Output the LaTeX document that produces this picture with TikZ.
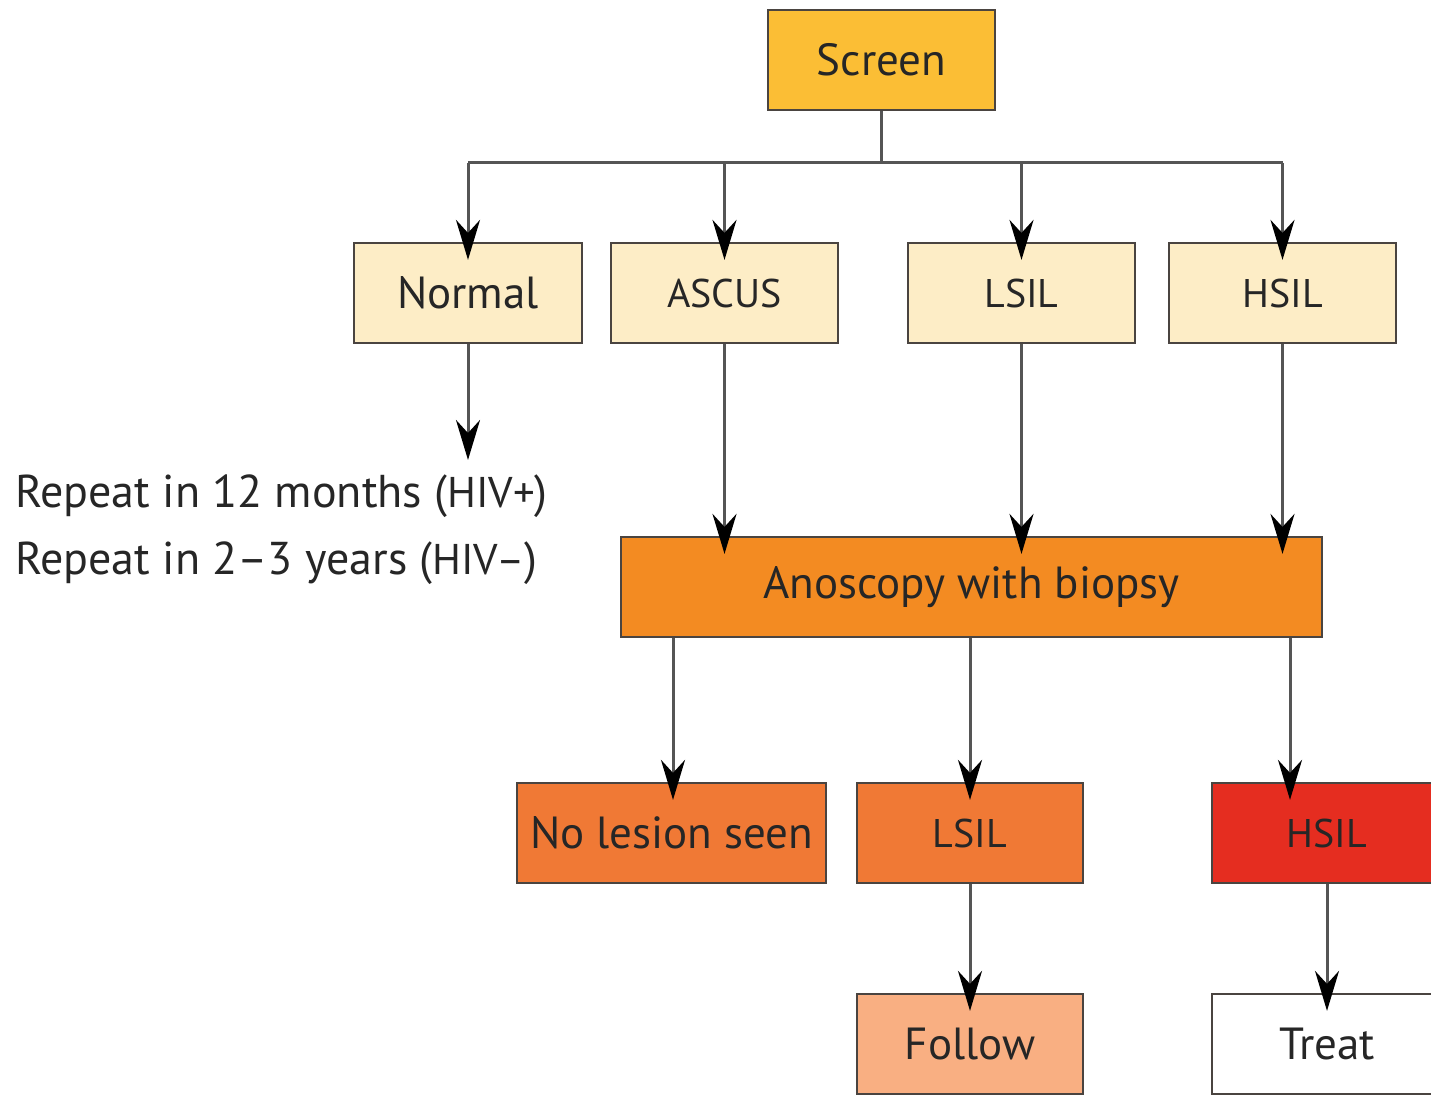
\documentclass[tikz,border=0pt]{standalone}
\usepackage{fontspec}
\setmainfont{PT Sans}
\usetikzlibrary{arrows.meta}
\definecolor{boxline}{HTML}{4A4440}
\definecolor{lineg}{HTML}{555555}
\definecolor{cScreen}{HTML}{FBBE35}
\definecolor{cCream}{HTML}{FDEDC6}
\definecolor{cAnos}{HTML}{F38B22}
\definecolor{cMid}{HTML}{F07935}
\definecolor{cRed}{HTML}{E52D20}
\definecolor{cFollow}{HTML}{F9AF82}
\begin{document}
\begin{tikzpicture}[x=1pt,y=-1pt,
  box/.style={draw=boxline, line width=2.2pt, minimum width=227pt, minimum height=100pt,
    inner sep=0pt, text=black!85, font=\fontsize{45}{54}\selectfont},
  acr/.style={font=\fontsize{40}{48}\selectfont},
  conn/.style={draw=lineg, line width=3pt},
  arr/.style={conn, -{Stealth[length=40pt,width=24pt,inset=13pt,black]}, shorten >=-18pt},
  lbl/.style={anchor=base west, inner sep=0pt, text=black!85, font=\fontsize{46}{56}\selectfont}]
\useasboundingbox (0,0) rectangle (1431,1094);
\clip (0,0) rectangle (1431,1094);
\fill[white] (0,0) rectangle (1431,1094);

\node[box, fill=cScreen] (screen) at (881.5,60) {Screen};
\node[box, fill=cCream, minimum width=228pt] (normal) at (468,293) {Normal};
\node[box, fill=cCream, acr] (ascus) at (724.5,293) {ASCUS};
\node[box, fill=cCream, acr] (lsila) at (1021.5,293) {LSIL};
\node[box, fill=cCream, acr] (hsila) at (1282.5,293) {HSIL};
\node[box, fill=cAnos, minimum width=701pt] (anos) at (971.5,587) {Anoscopy with biopsy};
\node[box, fill=cMid, minimum width=309pt] (nolesion) at (671.5,833) {No lesion seen};
\node[box, fill=cMid, acr, minimum width=226pt] (lsilb) at (970,833) {LSIL};
\node[box, fill=cRed, acr, minimum width=230pt] (hsilb) at (1327,833) {HSIL};
\node[box, fill=cFollow, minimum width=226pt] (follow) at (970,1044) {Follow};
\node[box, fill=white, minimum width=230pt] (treat) at (1327,1044) {Treat};

\node[lbl] (rep1) at (15,507) {Repeat in 12 months ({\fontsize{43}{48}\selectfont HIV+})};
\node[lbl] (rep2) at (15,574) {Repeat in 2--3 years ({\fontsize{43}{48}\selectfont HIV--})};

\coordinate (bus) at (881.5,163);
\coordinate (reptop) at (468,460);
\coordinate (hx) at (1290,0);
\coordinate (nx) at (673,0);

\draw[conn] (screen.south) -- (bus);
\draw[conn] (normal.north |- bus) -- (hsila.north |- bus);
\foreach \n in {normal,ascus,lsila,hsila}
  \draw[arr] (\n.north |- bus) -- (\n.north);

\draw[arr, shorten >=0pt] (normal.south) -- (reptop);

\draw[arr] (ascus.south) -- (ascus.south |- anos.north);
\draw[arr] (lsila.south) -- (lsila.south |- anos.north);
\draw[arr] (hsila.south) -- (hsila.south |- anos.north);

\draw[arr] (anos.south -| nx) -- (nolesion.north -| nx);
\draw[arr] (anos.south -| lsilb.north) -- (lsilb.north);
\draw[arr] (anos.south -| hx) -- (hsilb.north -| hx);

\draw[arr] (lsilb.south) -- (follow.north);
\draw[arr] (hsilb.south) -- (treat.north);
\end{tikzpicture}
\end{document}
